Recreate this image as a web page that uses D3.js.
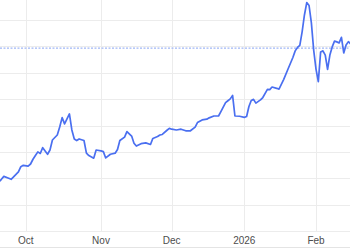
<!DOCTYPE html>
<html>
<head>
<meta charset="utf-8">
<script src="https://cdn.jsdelivr.net/npm/d3@7"></script>
<style>
html,body{margin:0;padding:0;background:#fff;}
svg{display:block;}
</style>
</head>
<body>
<svg id="chart" width="350" height="250"></svg>
<script>
// ---- data ----
const dates = ["2025-09-20","2025-09-21","2025-09-22","2025-09-24","2025-09-25","2025-09-26","2025-09-28","2025-09-29","2025-09-30",
"2025-10-02","2025-10-03","2025-10-04","2025-10-05","2025-10-06","2025-10-07","2025-10-08","2025-10-10","2025-10-11","2025-10-12","2025-10-14","2025-10-15","2025-10-16","2025-10-17","2025-10-19","2025-10-20","2025-10-21","2025-10-22","2025-10-23","2025-10-25","2025-10-26","2025-10-27","2025-10-29","2025-10-30",
"2025-11-01","2025-11-02","2025-11-03","2025-11-05","2025-11-07","2025-11-08","2025-11-09","2025-11-11","2025-11-12","2025-11-14","2025-11-15","2025-11-16","2025-11-18","2025-11-20","2025-11-22","2025-11-23","2025-11-25","2025-11-26","2025-11-27","2025-11-29","2025-11-30",
"2025-12-01","2025-12-03","2025-12-05","2025-12-07","2025-12-09","2025-12-11","2025-12-12","2025-12-14","2025-12-16","2025-12-17","2025-12-19","2025-12-21","2025-12-22","2025-12-24","2025-12-25","2025-12-26","2025-12-27","2025-12-28","2025-12-30",
"2026-01-01","2026-01-02","2026-01-03","2026-01-04","2026-01-05","2026-01-06","2026-01-08","2026-01-09","2026-01-11","2026-01-12","2026-01-13","2026-01-15","2026-01-16","2026-01-18","2026-01-20","2026-01-21","2026-01-22","2026-01-23","2026-01-24","2026-01-25","2026-01-26","2026-01-27","2026-01-28","2026-01-29","2026-01-30","2026-01-31",
"2026-02-01","2026-02-02","2026-02-03","2026-02-04","2026-02-05","2026-02-06","2026-02-07","2026-02-08","2026-02-09","2026-02-10","2026-02-11","2026-02-12","2026-02-13","2026-02-14","2026-02-15","2026-02-16"];
const values = [18.6,19.6,20.7,20.0,19.6,20.5,22.4,24.4,24.9,
24.6,25.4,27.2,28.6,30.0,29.4,31.6,29.1,30.7,34.5,36.4,39.4,43.0,40.6,44.4,38.3,34.9,34.3,34.9,34.3,29.5,28.6,27.6,30.7,
30.4,30.1,27.7,29.1,29.5,30.9,34.3,35.6,37.7,36.0,33.3,32.2,33.1,33.4,32.8,35.1,35.8,36.4,36.6,38.2,38.9,
38.6,38.3,38.6,38.0,38.0,39.4,41.1,42.1,42.4,42.9,43.6,43.6,45.3,48.7,49.4,50.1,51.4,43.6,43.5,
43.1,43.4,47.2,49.5,49.9,48.5,49.7,50.6,53.7,53.6,54.6,54.1,53.8,57.4,61.6,63.7,65.8,68.3,69.6,70.4,75.5,81.9,86.6,85.5,78.9,68.6,
61.4,56.6,67.9,68.3,66.7,61.3,66.7,69.8,72.0,71.7,71.3,73.4,67.5,70.5,71.8,70.9];
const referenceValue = 69.3;
const gridValues = [0,10,20,30,40,50,60,70,80,90];
const monthTicks = ["2025-10-01","2025-11-01","2025-12-01","2026-01-01","2026-02-01"];
const monthLabels = ["Oct","Nov","Dec","2026","Feb"];

// ---- drawing ----
const W = 350, H = 250;
const plotBottom = 231, plotTop = 20;
const parse = d3.utcParse("%Y-%m-%d");
const tickDates = monthTicks.map(parse);
const x = d3.scaleUtc().domain(tickDates).range([25.7, 101, 171.7, 244.3, 316]);
const y = d3.scaleLinear().domain([0, 80]).range([plotBottom, plotTop]);

const svg = d3.select("#chart");

// horizontal gridlines
svg.append("g")
  .selectAll("line").data(gridValues).join("line")
  .attr("x1", 0).attr("x2", W)
  .attr("y1", d => Math.round(y(d)) + 0.5).attr("y2", d => Math.round(y(d)) + 0.5)
  .attr("stroke", "#ececec").attr("stroke-width", 1);

// vertical gridlines
svg.append("g")
  .selectAll("line").data(tickDates).join("line")
  .attr("x1", d => Math.round(x(d)) + 0.5).attr("x2", d => Math.round(x(d)) + 0.5)
  .attr("y1", 0).attr("y2", plotBottom)
  .attr("stroke", "#ececec").attr("stroke-width", 1);

// bottom frame line
svg.append("line")
  .attr("x1", 0).attr("x2", W).attr("y1", 247.5).attr("y2", 247.5)
  .attr("stroke", "#e4e4e4").attr("stroke-width", 1);

// reference dashed line
svg.append("line")
  .attr("x1", 0).attr("x2", W)
  .attr("y1", y(referenceValue)).attr("y2", y(referenceValue))
  .attr("stroke", "#9fb6f6").attr("stroke-width", 1.2)
  .attr("stroke-dasharray", "2,1.5");

// data line
const data = dates.map((d, i) => ({date: parse(d), value: values[i]}));
svg.append("path")
  .datum(data)
  .attr("fill", "none")
  .attr("stroke", "#4a6ff0")
  .attr("stroke-width", 1.7)
  .attr("stroke-linejoin", "round")
  .attr("stroke-linecap", "round")
  .attr("d", d3.line().x(d => x(d.date)).y(d => y(d.value)));

// month labels
svg.append("g")
  .selectAll("text").data(tickDates).join("text")
  .attr("x", d => x(d))
  .attr("y", 244.3)
  .attr("text-anchor", "middle")
  .attr("font-family", "'Liberation Sans', Arial, sans-serif")
  .attr("font-size", 10)
  .attr("fill", "#4d4d4d")
  .text((d, i) => monthLabels[i]);
</script>
</body>
</html>
